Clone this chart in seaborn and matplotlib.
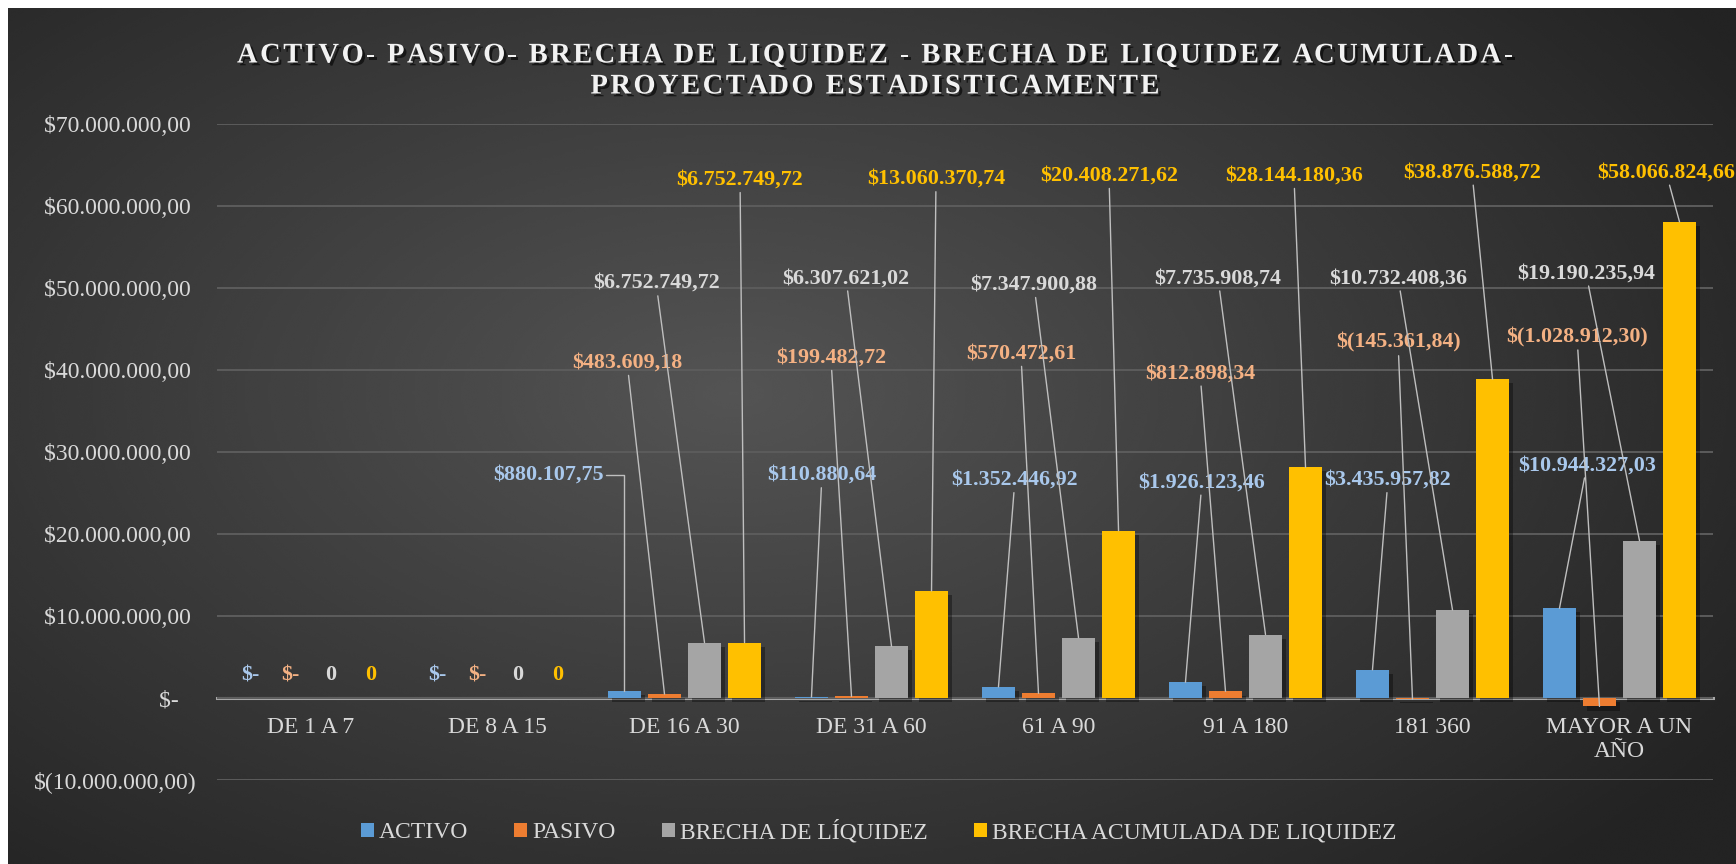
import numpy as np
import pandas as pd
import matplotlib
matplotlib.use('Agg')
import matplotlib.pyplot as plt
import matplotlib.patheffects as pe
from matplotlib.patches import Patch
from matplotlib.font_manager import FontProperties
import seaborn as sns

# Datos del gráfico
categorias = ['DE 1 A 7', 'DE 8 A 15', 'DE 16 A 30', 'DE 31 A 60', '61 A 90',
              '91 A 180', '181 360', 'MAYOR A UN\nAÑO']
series = ['ACTIVO', 'PASIVO', 'BRECHA DE LÍQUIDEZ', 'BRECHA ACUMULADA DE LIQUIDEZ']

activo = [0, 0, 880107.75, 110880.64, 1352446.92, 1926123.46, 3435957.82, 10944327.03]
pasivo = [0, 0, 483609.18, 199482.72, 570472.61, 812898.34, -145361.84, -1028912.30]
brecha = [0, 0, 6752749.72, 6307621.02, 7347900.88, 7735908.74, 10732408.36, 19190235.94]
acumulada = [0, 0, 6752749.72, 13060370.74, 20408271.62, 28144180.36, 38876588.72, 58066824.66]

ticks_y = [-10e6, 0, 10e6, 20e6, 30e6, 40e6, 50e6, 60e6, 70e6]

colores = ['#5B9BD5', '#ED7D31', '#A5A5A5', '#FFC000']
colores_etiqueta = ['#A9C8EC', '#F4B183', '#D9D9D9', '#FFC000']
cero_como = ['$-', '$-', '0', '0']

# posiciones de las etiquetas (x en categorías, y en valor)
pos_activo = [None, None, (1.270, 27.2e6), (2.735, 27.2e6), (3.767, 26.6e6), (4.767, 26.3e6), (5.762, 26.6e6), (6.826, 28.4e6)]
pos_pasivo = [None, None, (1.693, 40.9e6), (2.783, 41.5e6), (3.799, 42.0e6), (4.757, 39.6e6), (5.816, 43.3e6), (6.773, 44.0e6)]
pos_brecha = [None, None, (1.848, 50.6e6), (2.864, 51.2e6), (3.869, 50.4e6), (4.853, 51.2e6), (5.816, 51.2e6), (6.821, 51.8e6)]
pos_acum = [None, None, (2.297, 63.2e6), (3.345, 63.3e6), (4.270, 63.7e6), (5.259, 63.7e6), (6.211, 64.1e6), (7.249, 64.1e6)]
posiciones = [pos_activo, pos_pasivo, pos_brecha, pos_acum]

W, H = 1736, 864
SERIF = 'Liberation Serif'
plt.rcParams['font.family'] = [SERIF, 'DejaVu Serif']


def fmt_pesos(v):
    s = f"{abs(v):,.2f}".replace(',', 'X').replace('.', ',').replace('X', '.')
    return f"$({s})" if v < 0 else f"${s}"


def fmt_eje(v):
    if v == 0:
        return '$-   '
    if v < 0:
        return fmt_pesos(v)
    return fmt_pesos(v) + ' '


def texto_espaciado(fig, s, xc, y_base, ancho, prop, **kw):
    r = fig.canvas.get_renderer()
    def w(t):
        return r.get_text_width_height_descent(t, prop, ismath=False)[0]
    wbar = w('|')
    offs = [w(s[:i] + '|') - wbar for i in range(len(s))]
    sp = (ancho - w(s)) / (len(s) - 1)
    x0 = xc - ancho / 2
    for i, ch in enumerate(s):
        if ch == ' ':
            continue
        fig.text((x0 + offs[i] + i * sp) / W, 1 - y_base / H, ch, ha='left', va='baseline',
                 fontproperties=prop, **kw)


df = pd.DataFrame({
    'periodo': categorias * 4,
    'serie': [s for s in series for _ in categorias],
    'valor': activo + pasivo + brecha + acumulada,
})

fig = plt.figure(figsize=(W / 100, H / 100), dpi=100, facecolor='white')

# fondo degradado
bg = fig.add_axes([8 / W, 0, 1 - 8 / W, 1 - 8 / H], zorder=-5)
yy, xx = np.mgrid[0:1:300j, 0:1:600j]
d = np.sqrt(((xx - 0.42) / 0.75) ** 2 + ((yy - 0.45) / 0.85) ** 2)
grad = np.clip(0.33 - 0.21 * d, 0.14, 1)
bg.imshow(grad, cmap='gray', vmin=0, vmax=1, aspect='auto', extent=[0, 1, 0, 1], interpolation='bicubic')
bg.axis('off')

ax = fig.add_axes([217 / W, 1 - 780 / H, 1496 / W, 656 / H], zorder=1)
ax.patch.set_alpha(0)

sns.barplot(data=df, x='periodo', y='valor', hue='serie', order=categorias, hue_order=series,
            palette=colores, width=0.856, gap=0.18, saturation=1, errorbar=None,
            legend=False, ax=ax)

for p in ax.patches:
    p.set_edgecolor('none')
    p.set_path_effects([pe.SimplePatchShadow(offset=(3, -3), shadow_rgbFace='black', alpha=0.35), pe.Normal()])

ax.set_ylim(-10e6, 70e6)
ax.set_xlim(-0.5, len(categorias) - 0.5)
ax.set_yticks(ticks_y)
ax.set_yticklabels([fmt_eje(v) for v in ticks_y])
ax.set_xlabel('')
ax.set_ylabel('')
ax.yaxis.grid(True, color='#5C5C5C', lw=1.4)
ax.xaxis.grid(False)
ax.set_axisbelow(True)
for s in ['top', 'right', 'left']:
    ax.spines[s].set_visible(False)
ax.spines['bottom'].set_position(('data', 0))
ax.spines['bottom'].set_color('#A6A6A6')
ax.spines['bottom'].set_linewidth(2.2)
ax.spines['bottom'].set_zorder(0.5)
ax.tick_params(axis='x', length=0, pad=13.5, labelsize=17, labelcolor='#D9D9D9')
ax.tick_params(axis='y', length=0, pad=14.5, labelsize=17, labelcolor='#D9D9D9')

# etiquetas de datos con líneas guía
for k, cont in enumerate(ax.containers):
    for j, bar in enumerate(cont):
        v = df[(df.serie == series[k])].valor.iloc[j]
        bx = bar.get_x() + bar.get_width() / 2
        by = bar.get_y() + bar.get_height()
        if v == 0:
            ax.text(bx, 2.8e6, cero_como[k], ha='center', va='center', fontsize=15.8,
                    fontweight='bold', color=colores_etiqueta[k])
            continue
        lx, ly = posiciones[k][j]
        props = dict(arrowstyle='-', color='#BFBFBF', lw=1.0, shrinkA=0, shrinkB=0)
        if k == 0 and j == 2:
            props.update(connectionstyle='angle,angleA=0,angleB=90,rad=0', relpos=(1, 0.5))
        ax.annotate(fmt_pesos(v), xy=(bx, by), xytext=(lx, ly), textcoords='data',
                    ha='center', va='center', fontsize=15.8, fontweight='bold',
                    color=colores_etiqueta[k], arrowprops=props, annotation_clip=False)

# título
prop_t = FontProperties(family=SERIF, weight='bold', size=20.5)
sombra = [pe.withSimplePatchShadow(offset=(2, -2), shadow_rgbFace='black', alpha=0.6)]
texto_espaciado(fig, 'ACTIVO- PASIVO- BRECHA DE LIQUIDEZ - BRECHA DE LIQUIDEZ ACUMULADA-',
                875, 62.5, 1276, prop_t, color='#F2F2F2', path_effects=sombra)
texto_espaciado(fig, 'PROYECTADO ESTADISTICAMENTE', 875, 93.5, 569, prop_t,
                color='#F2F2F2', path_effects=sombra)

# leyenda
handles = [Patch(facecolor=c, edgecolor='none') for c in colores]
fig.legend(handles, series, loc='center', bbox_to_anchor=(878.5 / W, 1 - 831.5 / H), ncol=4,
           frameon=False, fontsize=17, handlelength=0.55, handleheight=0.55,
           handletextpad=0.22, columnspacing=1.95, labelcolor='#D9D9D9')

fig.savefig('out.png', dpi=100, facecolor='white')
